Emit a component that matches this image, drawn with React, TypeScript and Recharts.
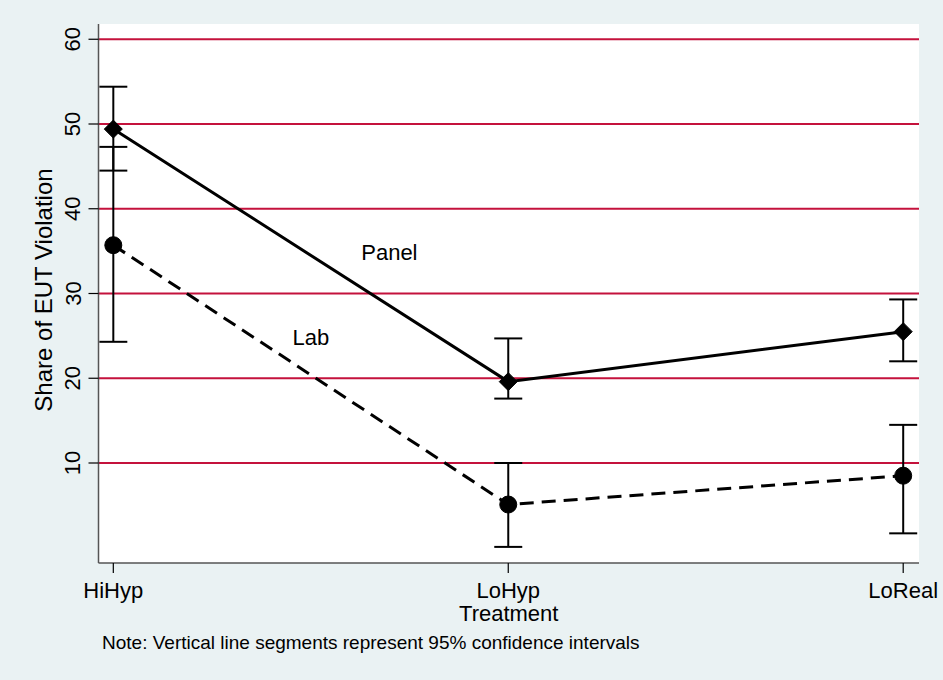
import React from 'react';
import { ComposedChart, Line, XAxis, YAxis, CartesianGrid, ErrorBar, ReferenceDot, ReferenceLine } from 'recharts';

const treatments = ['HiHyp', 'LoHyp', 'LoReal'];
const treatmentPos = [1, 2, 3];
const panelMean = [49.4, 19.6, 25.5];
const panelLow = [44.5, 17.6, 22.0];
const panelHigh = [54.4, 24.7, 29.3];
const labMean = [35.7, 5.1, 8.5];
const labLow = [24.3, 0.1, 1.7];
const labHigh = [47.3, 10.0, 14.5];
const yTicks = [10, 20, 30, 40, 50, 60];
const seriesNames = ['Panel', 'Lab'];
const seriesLabelX = [1.699, 1.5];
const seriesLabelY = [34.9, 24.9];

const FONT = '"Liberation Sans", Arial, Helvetica, sans-serif';
const GRID = '#C4123C';
const BG = '#EAF2F3';

const data = treatmentPos.map((x, i) => ({
  x,
  panel: panelMean[i],
  panelErr: [panelMean[i] - panelLow[i], panelHigh[i] - panelMean[i]],
  lab: labMean[i],
  labErr: [labMean[i] - labLow[i], labHigh[i] - labMean[i]],
}));

const Diamond = (props: any) => {
  const { cx, cy, index } = props;
  if (cx == null || cy == null) return null;
  const s = 9;
  return (
    <path
      key={`d-${index}`}
      d={`M${cx},${cy - s} L${cx + s},${cy} L${cx},${cy + s} L${cx - s},${cy} Z`}
      fill="#000"
      stroke="#000"
    />
  );
};

const Circle = (props: any) => {
  const { cx, cy, index } = props;
  if (cx == null || cy == null) return null;
  return <circle key={`c-${index}`} cx={cx} cy={cy} r={8.5} fill="#000" stroke="#000" />;
};

const YTick = (props: any) => {
  const { x, y, payload } = props;
  const tx = x - 6;
  return (
    <text
      x={tx}
      y={y}
      textAnchor="middle"
      transform={`rotate(-90 ${tx} ${y})`}
      fill="#000"
      fontSize={22}
      fontFamily={FONT}
    >
      {payload.value}
    </text>
  );
};

export default function App() {
  return (
    <div style={{ position: 'absolute', left: 0, top: 0, width: 943, height: 680, background: BG, fontFamily: FONT }}>
      <ComposedChart
        width={943}
        height={680}
        data={data}
        margin={{ top: 24, right: 24, left: 38.5, bottom: 77 }}
      >
        <CartesianGrid horizontal={false} vertical={false} fill="#FFFFFF" />
        {yTicks.map((t) => (
          <ReferenceLine key={`g-${t}`} y={t} stroke={GRID} strokeWidth={2.2} />
        ))}
        <XAxis
          type="number"
          dataKey="x"
          domain={[0.9625, 3.04]}
          ticks={treatmentPos}
          allowDataOverflow
          tickFormatter={(v: number) => treatments[v - 1]}
          height={40}
          tickSize={10}
          tickMargin={9}
          axisLine={{ stroke: '#555', strokeWidth: 1.5 }}
          tickLine={{ stroke: '#000', strokeWidth: 1.2 }}
          tick={{ fill: '#000', fontSize: 22, fontFamily: FONT }}
          interval={0}
        />
        <YAxis
          type="number"
          domain={[-1.8, 61.8]}
          ticks={yTicks}
          allowDataOverflow
          width={60}
          tickSize={10}
          axisLine={{ stroke: '#555', strokeWidth: 1.5 }}
          tickLine={{ stroke: '#000', strokeWidth: 1.2 }}
          tick={<YTick />}
          interval={0}
        />
        <Line
          dataKey="panel"
          stroke="#000"
          strokeWidth={3}
          dot={<Diamond />}
          activeDot={false}
          isAnimationActive={false}
        >
          <ErrorBar dataKey="panelErr" direction="y" width={14} stroke="#000" strokeWidth={2} />
        </Line>
        <Line
          dataKey="lab"
          stroke="#000"
          strokeWidth={3}
          strokeDasharray="14 8"
          dot={<Circle />}
          activeDot={false}
          isAnimationActive={false}
        >
          <ErrorBar dataKey="labErr" direction="y" width={14} stroke="#000" strokeWidth={2} />
        </Line>
        {seriesNames.map((name, i) => (
          <ReferenceDot
            key={name}
            x={seriesLabelX[i]}
            y={seriesLabelY[i]}
            r={1}
            fill="none"
            stroke="none"
            label={{ value: name, position: 'center', fill: '#000', fontSize: 22, fontFamily: FONT }}
          />
        ))}
      </ComposedChart>
      <div
        style={{
          position: 'absolute',
          left: 44 - 200,
          top: 290 - 13,
          width: 400,
          height: 26,
          lineHeight: '26px',
          fontSize: 24,
          textAlign: 'center',
          color: '#000',
          transform: 'rotate(-90deg)',
          whiteSpace: 'nowrap',
        }}
      >
        Share of EUT Violation
      </div>
      <div
        style={{
          position: 'absolute',
          left: 508.75 - 100,
          top: 603,
          width: 200,
          fontSize: 22,
          lineHeight: '22px',
          textAlign: 'center',
          color: '#000',
        }}
      >
        Treatment
      </div>
      <div
        style={{
          position: 'absolute',
          left: 102,
          top: 633,
          fontSize: 19,
          lineHeight: '19px',
          color: '#000',
          whiteSpace: 'nowrap',
        }}
      >
        Note: Vertical line segments represent 95% confidence intervals
      </div>
    </div>
  );
}
